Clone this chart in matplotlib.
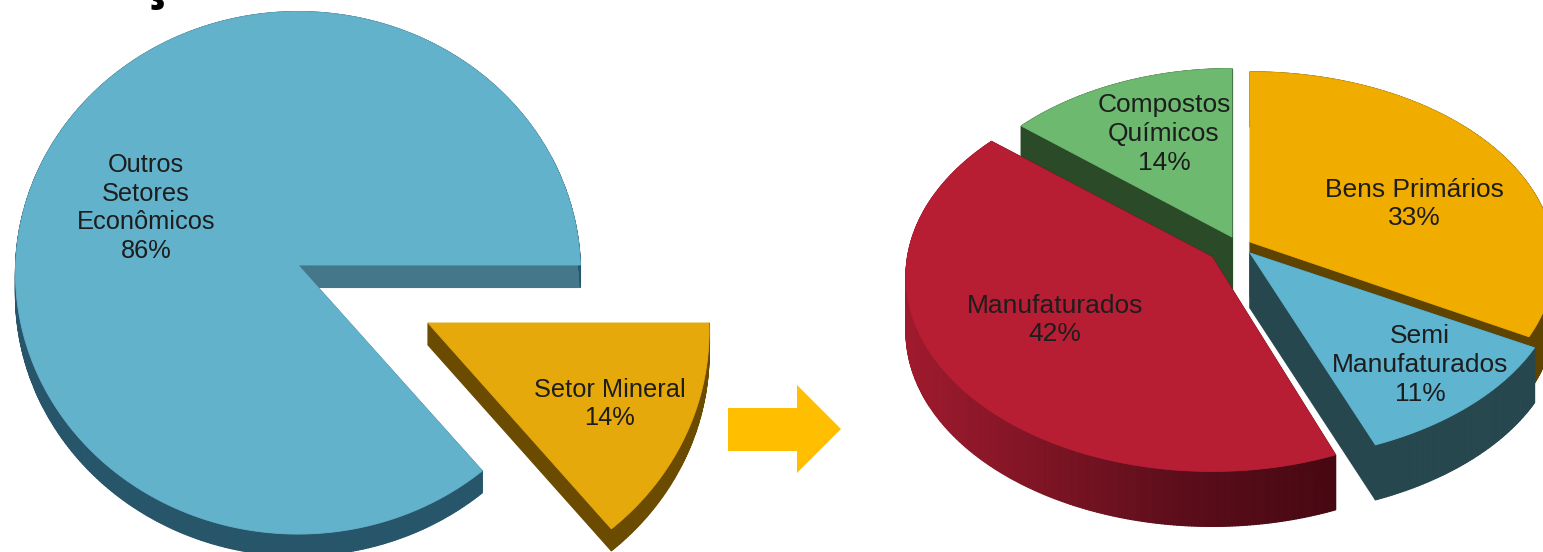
import numpy as np
import matplotlib
matplotlib.use("Agg")
import matplotlib.pyplot as plt
from matplotlib.collections import PolyCollection
from matplotlib.colors import LinearSegmentedColormap
from matplotlib.patches import Polygon

# ================================
# DATA
# ================================
left_names = ["Setor Mineral", "Outros\nSetores\nEconômicos"]
left_values = [14, 86]

right_names = ["Bens Primários", "Semi\nManufaturados", "Manufaturados", "Compostos\nQuímicos"]
right_values = [33, 11, 42, 14]

# ================================
# STYLE / LAYOUT (pixels of the picture)
# ================================
W, H = 1543, 552
TEXT_COLOR = "#1d1d1d"

# apex x, apex y, scale x, scale y, top colour, side colour, colour of the radial side
left_style = [
    (428, 323, 1.00, 1.00, "#e6a90c", "#6b4b00", "#6b4b00"),
    (298, 265, 1.005, 1.00, "#63b2cb", "#27556a", "#447789"),
]
left_shape = dict(a=281, b=261, k=0.03, depth=22, start=0)
left_text = [(610, 404), (146, 208)]

right_style = [
    (1250, 242, 1.00, 0.97, "#f0ad00", "#5e4400", "#5e4400"),
    (1250, 253, 1.02, 0.97, "#5fb4d0", "#27474f", "#27474f"),
    (1212, 257, 1.005, 1.00, "#b71e34", None, "#4a0812"),
    (1232, 237, 0.96, 0.96, "#6cb96f", "#2b4a28", "#2b4a28"),
]
right_shape = dict(a=303, b=193, k=0.1, depth=55, start=90)
right_text = [(1414, 204), (1420, 365), (1055, 320), (1164, 134)]
right_order = [3, 0, 2, 1]

side_ramp = LinearSegmentedColormap.from_list("lado", ["#a01a2e", "#7c1424", "#5a0d1a", "#470812"])


def outline(cx, cy, a, b, k, t1, t2):
    # slice seen in perspective, t1 and t2 in degrees
    t = np.radians(np.linspace(t1, t2, max(int(abs(t2 - t1)) * 2, 12)))
    d = 1 + k * np.sin(t)
    x = cx + a * np.cos(t) / d
    y = cy - b * np.sin(t) / d
    return x, y


def draw_slice(ax, cx, cy, sx, sy, shape, t1, t2, top, side, radial):
    x, y = outline(cx, cy, shape["a"] * sx, shape["b"] * sy, shape["k"], t1, t2)
    depth = shape["depth"]

    # straight walls
    for px, py in [(x[0], y[0]), (x[-1], y[-1])]:
        wall = [(cx, cy), (px, py), (px, py + depth), (cx, cy + depth)]
        ax.add_patch(Polygon(wall, closed=True, fc=radial, ec=radial, lw=0.8))

    # arc wall
    quads = [[(x[i], y[i]), (x[i + 1], y[i + 1]), (x[i + 1], y[i + 1] + depth), (x[i], y[i] + depth)]
             for i in range(len(x) - 1)]
    if side is None:
        colors = [side_ramp(np.clip((q[0][0] - 905) / 430, 0, 1)) for q in quads]
    else:
        colors = [side] * len(quads)
    ax.add_collection(PolyCollection(quads, facecolors=colors, edgecolors=colors, linewidths=0.8))

    ax.add_patch(Polygon(np.vstack([[cx, cy], np.column_stack([x, y])]), closed=True,
                         fc=top, ec=top, lw=0.6))


def angle_ranges(values, start):
    # clockwise from start
    total = sum(values)
    edges = start - 360 * np.cumsum([0] + list(values)) / total
    return list(zip(edges[:-1], edges[1:]))


fig = plt.figure(figsize=(W / 100, H / 100), dpi=100)
ax = fig.add_axes([0, 0, 1, 1])
ax.set_xlim(0, W)
ax.set_ylim(H, 0)
ax.axis("off")

# ================================
# LEFT PIE
# ================================
left_angles = angle_ranges(left_values, left_shape["start"])
for i in [1, 0]:
    cx, cy, sx, sy, top, side, radial = left_style[i]
    draw_slice(ax, cx, cy, sx, sy, left_shape, *left_angles[i], top, side, radial)

for name, value, (tx, ty) in zip(left_names, left_values, left_text):
    ax.text(tx, ty, f"{name}\n{value}%", ha="center", va="center", fontsize=18.3,
            family="Liberation Sans", color=TEXT_COLOR, linespacing=1.24)

# ================================
# RIGHT PIE
# ================================
right_angles = angle_ranges(right_values, right_shape["start"])
for i in right_order:
    cx, cy, sx, sy, top, side, radial = right_style[i]
    draw_slice(ax, cx, cy, sx, sy, right_shape, *right_angles[i], top, side, radial)

for name, value, (tx, ty) in zip(right_names, right_values, right_text):
    ax.text(tx, ty, f"{name}\n{value}%", ha="center", va="center", fontsize=19,
            family="Liberation Sans", color=TEXT_COLOR, linespacing=1.25)

# ================================
# ARROW AND CUT TITLE
# ================================
ax.add_patch(Polygon([(728, 408), (797, 408), (797, 385), (841, 429), (797, 473), (797, 451), (728, 451)],
                     closed=True, fc="#ffbf00", ec="none"))
ax.text(156, -3.5, "ç", ha="center", va="baseline", fontsize=40, family="Open Sans",
        fontweight="bold", color="black", clip_on=False)

fig.savefig("out.png", dpi=100, facecolor="white")
